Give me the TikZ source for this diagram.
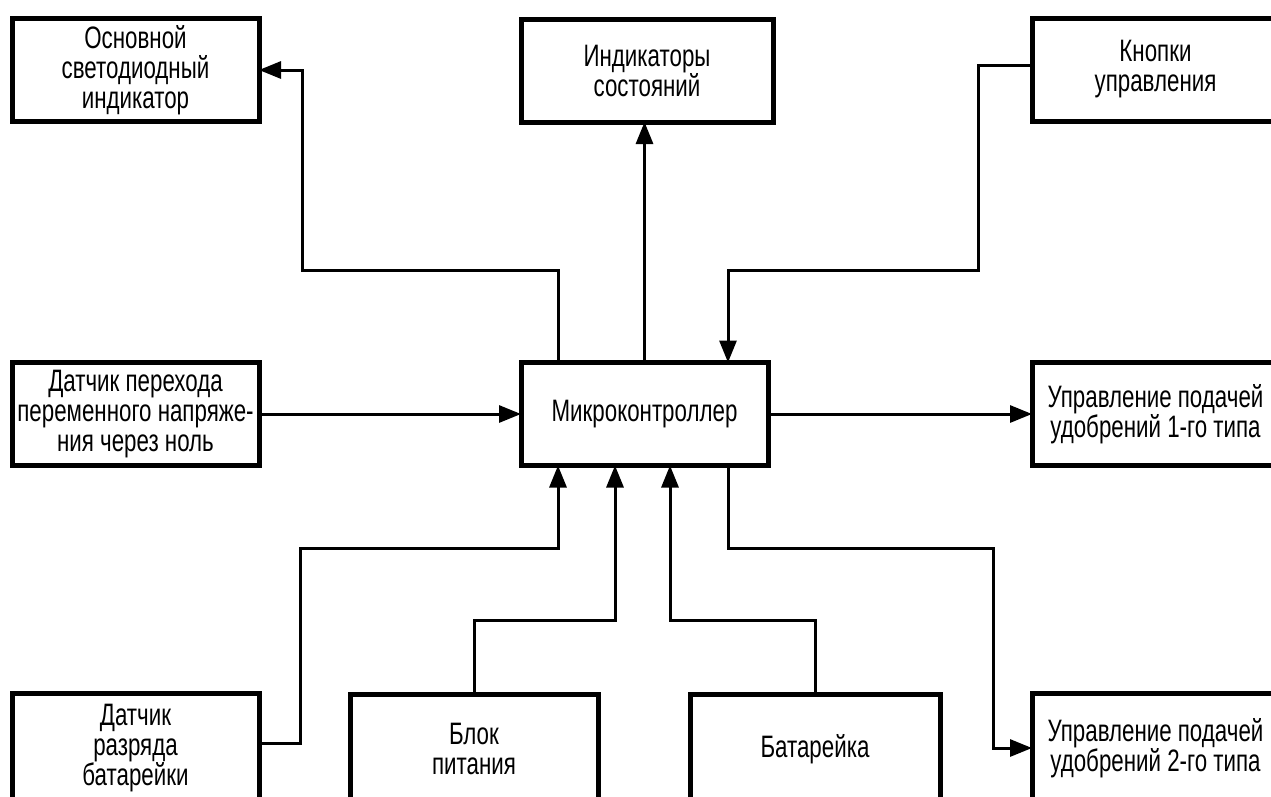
\documentclass[tikz,border=0pt]{standalone}
\usepackage{fontspec}
\setmainfont[FakeStretch=0.72]{Liberation Sans}
\usepackage{tikz}
\usetikzlibrary{arrows.meta, positioning, calc}

\tikzset{
    block/.style={draw, line width=5pt, rectangle, outer sep=0pt, inner sep=2pt,
        minimum width=247pt, minimum height=103pt, align=center,
        font=\fontsize{31}{30}\selectfont},
    conn/.style={line width=3pt},
    arr/.style={conn, -{Triangle[length=22pt, width=17pt]}}
}

\begin{document}
\begin{tikzpicture}[x=1pt, y=-1pt]
    % Frame
    \useasboundingbox (0,0) rectangle (1271,796);
    \fill[white] (0,0) rectangle (1271,796);
    \clip (0,0) rectangle (1271,796);

    % Top row
    \node[block] (led) at (135.5,70) {Основной\\светодиодный\\индикатор};
    \node[block, minimum width=252pt] (ind) at (647,70.5) {Индикаторы\\состояний};
    \node[block] (btn) at (1155.5,69.5) {Кнопки\\управления};

    % Middle row
    \node[block] (zc) at (135.5,414) {Датчик перехода\\переменного напряже-\\ния через ноль};
    \node[block] (mc) at (644.5,414) {Микроконтроллер};
    \node[block] (fa) at (1155.5,414) {Управление подачей\\удобрений 1-го типа};

    % Bottom row
    \node[block, minimum height=110pt] (bs) at (135.5,748) {Датчик\\разряда\\батарейки};
    \node[block, minimum width=248pt, minimum height=110pt] (psu) at (474,749) {Блок\\питания};
    \node[block, minimum width=250pt, minimum height=110pt] (bat) at (815,749) {Батарейка};
    \node[block, minimum height=110pt] (fb) at (1155.5,748) {Управление подачей\\удобрений 2-го типа};

    % Bends
    \coordinate (k1) at (302,270);
    \coordinate (k2) at (978,270);
    \coordinate (k3) at (993,548);
    \coordinate (k4) at (300,548);

    % Outputs of the controller
    \draw[arr] ([xshift=37pt]mc.north west) |- (k1) |- (led.east);
    \draw[arr] (mc.north) -- (mc.north |- ind.south);
    \draw[arr] (mc.east) -- (fa.west);
    \draw[arr] ([xshift=207pt]mc.south west) |- (k3) |- (fb.west);

    % Inputs of the controller
    \draw[arr] ([yshift=4.5pt]btn.west) -| (k2) -| ([xshift=207pt]mc.north west);
    \draw[arr] (zc.east) -- (mc.west);
    \draw[arr] ([yshift=5pt]bs.east) -| (k4) -| ([xshift=37pt]mc.south west);
    \draw[arr] (psu.north) -- ++(0,-74) -| ([xshift=94pt]mc.south west);
    \draw[arr] (bat.north) -- ++(0,-74) -| ([xshift=149pt]mc.south west);
\end{tikzpicture}
\end{document}
